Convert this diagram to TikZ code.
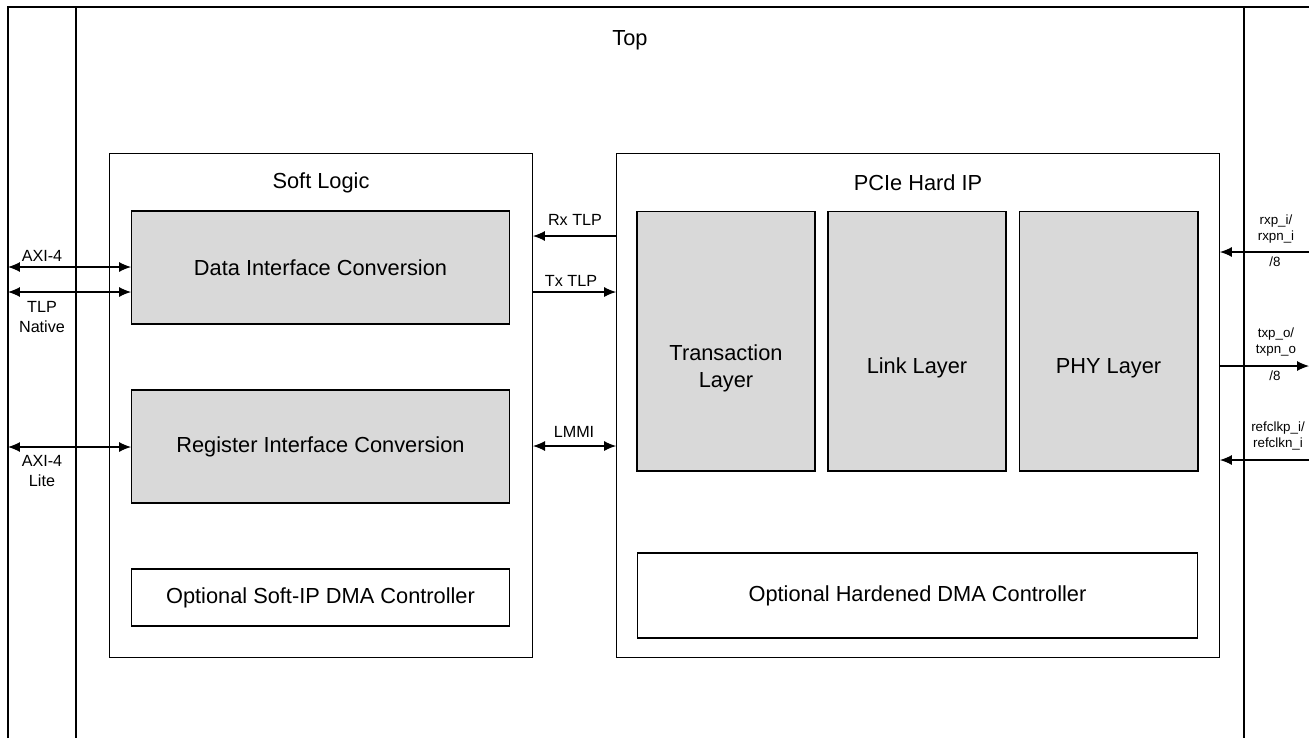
\documentclass[tikz,border=0pt]{standalone}
\usepackage{fontspec}
\setmainfont{Liberation Sans}
\usepackage{tikz}
\usepackage{color}
\usetikzlibrary{arrows.meta}
\definecolor{ipgray}{RGB}{217,217,217}

\tikzset{
  blockbox/.style={draw,line width=0.6pt,inner sep=0pt,outer sep=0pt,align=center,font=\fontsize{12.4}{15}\selectfont},
  layerbox/.style={blockbox,fill=ipgray},
  boxtext/.style={font=\fontsize{12.4}{15.5}\selectfont,align=center},
  sig/.style={line width=0.6pt},
  siglabel/.style={font=\fontsize{9.2}{11}\selectfont,align=center,inner sep=1pt},
  pinlabel/.style={font=\fontsize{7.6}{9.2}\selectfont,align=center,inner sep=1pt}
}

\begin{document}
\begin{tikzpicture}[x=0.02cm,y=-0.02cm,>={Latex[length=0.24cm,width=0.2cm]}]
\useasboundingbox (0,0) rectangle (1309,738);
% frame
\draw[line width=1pt] (8,738) -- (8,7) -- (1309,7);
\draw[line width=1pt] (76,7) -- (76,738);
\draw[line width=1pt] (1244,7) -- (1244,738);
\node[boxtext] (top) at (630,40) {Top};

% soft logic
\node[blockbox,minimum width=8.48cm,minimum height=10.1cm] (soft) at (321,405.5) {};
\node[boxtext] (softname) at (321,183) {Soft Logic};
\node[layerbox,minimum width=7.58cm,minimum height=2.26cm] (dic) at (320.5,267.5) {Data Interface Conversion};
\node[layerbox,minimum width=7.58cm,minimum height=2.26cm] (ric) at (320.5,446.5) {Register Interface Conversion};
\node[blockbox,minimum width=7.58cm,minimum height=1.14cm] (sdma) at (320.5,597.5) {Optional Soft-IP DMA Controller};

% hard ip
\node[blockbox,minimum width=12.08cm,minimum height=10.1cm] (hip) at (918,405.5) {};
\node[boxtext] (hipname) at (918,183) {PCIe Hard IP};
\node[layerbox,minimum width=3.56cm,minimum height=5.2cm] (tl) at (726,341) {};
\node[layerbox,minimum width=3.56cm,minimum height=5.2cm] (ll) at (917,341) {};
\node[layerbox,minimum width=3.58cm,minimum height=5.2cm] (phy) at (1108.5,341) {};
\node[boxtext] (tlname) at (726,368) {Transaction\\Layer};
\node[boxtext] (llname) at (917,368) {Link Layer};
\node[boxtext] (phyname) at (1108.5,368) {PHY Layer};
\node[blockbox,minimum width=11.22cm,minimum height=1.7cm] (hdma) at (917.5,595.5) {Optional Hardened DMA Controller};

% user side
\coordinate (axi) at (8,267);
\coordinate (tlp) at (8,292);
\coordinate (axil) at (8,447);
\draw[sig,<->] (axi) -- (axi -| dic.west);
\draw[sig,<->] (tlp) -- (tlp -| dic.west);
\draw[sig,<->] (axil) -- (axil -| ric.west);
\node[siglabel] (axiname) at (42,256) {AXI-4};
\node[siglabel] (tlpname) at (42,317) {TLP\\Native};
\node[siglabel] (axilname) at (42,471) {AXI-4\\Lite};

% soft logic <-> hard ip
\coordinate (rx) at (616,236);
\coordinate (tx) at (533,292);
\coordinate (lmmi) at (533,446);
\draw[sig,->] (rx) -- (rx -| soft.east);
\draw[sig,->] (tx) -- (tx -| hip.west);
\draw[sig,<->] (lmmi) -- (lmmi -| hip.west);
\node[siglabel] (rxname) at (575,220) {Rx TLP};
\node[siglabel] (txname) at (571,281) {Tx TLP};
\node[siglabel] (lmminame) at (574,432) {LMMI};

% serial side
\coordinate (rxp) at (1309,252);
\coordinate (txp) at (1309,366);
\coordinate (refclk) at (1309,460);
\draw[sig,->] (rxp) -- (rxp -| hip.east);
\draw[sig,<-] (txp) -- (txp -| hip.east);
\draw[sig,->] (refclk) -- (refclk -| hip.east);
\node[pinlabel] (rxpname) at (1276,229) {rxp\_i/\\rxpn\_i};
\node[pinlabel] (rxpw) at (1275,262) {/8};
\node[pinlabel] (txpname) at (1276,342) {txp\_o/\\txpn\_o};
\node[pinlabel] (txpw) at (1275,376) {/8};
\node[pinlabel] (refname) at (1278,436) {refclkp\_i/\\refclkn\_i};
\end{tikzpicture}
\end{document}
